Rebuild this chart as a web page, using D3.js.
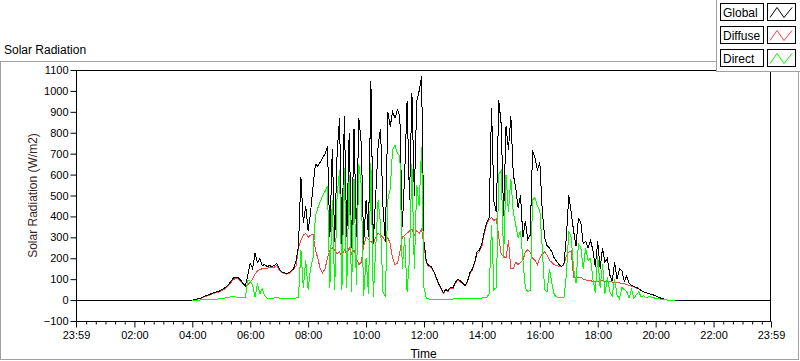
<!DOCTYPE html>
<html>
<head>
<meta charset="utf-8">
<script src="https://cdn.jsdelivr.net/npm/d3@7"></script>
<style>
  html, body { margin: 0; padding: 0; background: #fff; }
  svg { display: block; }
  text { font-family: "Liberation Sans", Arial, sans-serif; }
</style>
</head>
<body>
<svg id="chart" width="800" height="361"></svg>
<script>
// ---------- DATA ----------
// samples every 5 minutes from 04:00 to 20:40 (W/m2)
const sampleStartMinute = 240;
const sampleStepMinutes = 5;

const globalRad = [
  0, 2, 5, 8, 12, 18, 22, 26, 32, 36, 40, 42, 48, 55, 62, 75, 90, 105, 110, 108, 96, 80, 68, 120, 175,
  150, 225, 180, 200, 165, 170, 160, 165, 160, 165, 175, 150, 135, 130, 128, 130,
  140, 150, 190, 260, 590, 370, 450, 330, 420, 540, 650, 640, 660, 680, 700, 735,
  300, 720, 280, 700, 870, 260, 880, 300, 800, 250, 820, 300, 870, 750, 270, 480,
  300, 1045, 270, 500, 740, 820, 450, 280, 900, 830, 900, 870, 910, 880, 350, 600,
  950, 480, 990, 500, 950, 1000, 1070, 280, 180, 165, 160, 140,
  110, 80, 58, 35, 50, 45, 62, 58, 85, 100, 92, 82, 70, 88, 130, 148, 180, 230, 240, 268, 330, 370, 392,
  920, 470, 420, 955, 840, 400, 830, 720, 880, 600, 540, 440, 500, 300, 380, 290, 310, 715, 680, 620, 660,
  430, 300, 260, 250, 230, 200, 185, 170, 160, 175, 300, 500, 420, 330, 260, 390, 370,
  270, 280, 250, 285, 240, 160, 280, 150, 250, 180, 200, 120, 90, 180, 100, 150, 140, 90, 115, 80,
  70, 65, 60, 55, 45, 40, 35, 32, 28, 25, 20, 15, 10, 6, 3, 0, 0, 0, 0
];

const diffuseRad = [
  0, 1, 4, 7, 10, 15, 19, 23, 28, 32, 36, 39, 44, 50, 57, 70, 84, 98, 104, 102, 90, 76, 64, 72, 88,
  100, 125, 140, 145, 150, 152, 152, 155, 155, 158, 165, 145, 132, 126, 124, 126,
  136, 146, 165, 250, 285, 310, 320, 300, 310, 315, 240, 200, 150, 130, 150, 200,
  240, 250, 240, 220, 230, 210, 240, 220, 250, 220, 240, 200, 170, 180, 260, 300,
  290, 280, 270, 300, 320, 310, 300, 280, 300, 270, 200, 170, 175, 230, 300, 310,
  320, 330, 340, 310, 330, 320, 340, 260, 175, 160, 155, 137,
  107, 78, 55, 32, 47, 42, 58, 55, 80, 95, 88, 78, 66, 84, 125, 143, 175, 220, 232, 258, 320, 360, 385,
  395, 380, 390, 300, 220, 210, 200, 285, 150, 150, 180, 170, 180, 190, 230, 240, 230, 200, 190, 170, 200,
  220, 230, 215, 190, 180, 170, 165, 160, 160, 170, 210, 230, 235, 110, 105, 110, 110,
  100, 96, 95, 92, 90, 90, 90, 92, 92, 90, 90, 88, 86, 86, 84, 82, 80, 78, 74, 70,
  66, 62, 58, 54, 45, 40, 36, 32, 28, 25, 20, 15, 10, 6, 3, 0, 0, 0, 0
];

const directRad = [
  0, 0, 0, 0, 3, 3, 3, 3, 3, 3, 3, 6, 6, 6, 12, 14, 15, 15, 15, 14, 14, 14, 14, 95, 90,
  70, 15, 80, 30, 55, 20, 10, 8, 8, 10, 15, 10, 8, 6, 6, 8,
  8, 8, 10, 12, 240, 60, 190, 50, 150, 200, 400, 440, 470, 500, 520, 545,
  60, 480, 50, 500, 620, 50, 630, 60, 600, 40, 580, 70, 650, 550, 20, 200,
  30, 655, 15, 250, 480, 360, 40, 15, 480, 530, 720, 740, 700, 690, 150, 300,
  40, 200, 650, 150, 550, 450, 730, 60, 8, 5, 5, 5,
  5, 5, 5, 5, 5, 5, 5, 5, 6, 6, 6, 6, 6, 6, 6, 8, 8, 8, 8, 10, 10, 12, 30,
  360, 50, 60, 600, 620, 200, 600, 420, 580, 420, 360, 300, 330, 190, 60, 40, 45, 480, 490, 450, 430,
  250, 50, 40, 150, 80, 25, 15, 12, 10, 12, 120, 330, 300, 150, 80, 270, 250,
  150, 250, 190, 200, 100, 35, 210, 60, 170, 30, 110, 40, 20, 100, 25, 5, 60, 50, 40, 10,
  50, 8, 25, 40, 15, 20, 10, 15, 15, 12, 8, 8, 5, 3, 1, 0, 0, 0, 0
];

// axis definitions
const dayStartMinute = -1;   // 23:59 of previous day
const dayEndMinute = 1439;   // 23:59
const yTicks = [-100, 0, 100, 200, 300, 400, 500, 600, 700, 800, 900, 1000, 1100];
const xTickMinutes = [-1, 120, 240, 360, 480, 600, 720, 840, 960, 1080, 1200, 1320, 1439];
const xTickLabels = ["23:59", "02:00", "04:00", "06:00", "08:00", "10:00", "12:00", "14:00", "16:00", "18:00", "20:00", "22:00", "23:59"];
const seriesNames = ["Global", "Diffuse", "Direct"];
const seriesColors = ["#000000", "#ff4040", "#00ff00"];

// ---------- CHART ----------
const svg = d3.select("#chart");
const X0 = 76, X1 = 771, Y0 = 70, Y1 = 321;

const x = d3.scaleLinear().domain([dayStartMinute, dayEndMinute]).range([X0, X1]);
const y = d3.scaleLinear().domain([-100, 1100]).range([Y1, Y0]);

// outer frame
svg.append("rect").attr("x", 0.5).attr("y", 61.5).attr("width", 798).attr("height", 298)
  .attr("fill", "none").attr("stroke", "#a0a0a0");

// title
svg.append("text").attr("x", 4).attr("y", 54).attr("font-size", 12).attr("fill", "#000").text("Solar Radiation");

// plot area
svg.append("rect").attr("x", X0 + 0.5).attr("y", Y0 + 0.5).attr("width", X1 - X0 - 1).attr("height", Y1 - Y0)
  .attr("fill", "#fff").attr("stroke", "#000");

// clip
svg.append("clipPath").attr("id", "clip").append("rect")
  .attr("x", X0 + 1).attr("y", Y0 + 1).attr("width", X1 - X0 - 2).attr("height", Y1 - Y0 - 1);

// y axis
const yAxis = d3.axisLeft(y).tickValues(yTicks).tickFormat(d3.format("d"))
  .tickSize(6).tickSizeOuter(0).tickPadding(2);
const gy = svg.append("g").attr("transform", `translate(${X0 + 0.5},0)`).call(yAxis);
gy.select(".domain").remove();
gy.selectAll("text").attr("font-size", 11).attr("font-family", "Liberation Sans, Arial, sans-serif").attr("fill", "#000");
gy.selectAll("line").attr("stroke", "#000");

// x axis major
const xAxis = d3.axisBottom(x).tickValues(xTickMinutes)
  .tickFormat((d, i) => xTickLabels[i]).tickSize(6).tickSizeOuter(0).tickPadding(4);
const gx = svg.append("g").attr("transform", `translate(0,${Y1 + 0.5})`).call(xAxis);
gx.select(".domain").remove();
gx.selectAll("text").attr("font-size", 11).attr("font-family", "Liberation Sans, Arial, sans-serif").attr("fill", "#000");
gx.selectAll("line").attr("stroke", "#000");

// x axis minor ticks (every 20 min)
const minorTicks = d3.range(20, 1440, 20).filter(m => m % 120 !== 0);
const xMinor = d3.axisBottom(x).tickValues(minorTicks).tickFormat("").tickSize(3).tickSizeOuter(0);
const gxm = svg.append("g").attr("transform", `translate(0,${Y1 + 0.5})`).call(xMinor);
gxm.select(".domain").remove();
gxm.selectAll("line").attr("stroke", "#000");

// axis titles
svg.append("text").attr("x", (X0 + X1) / 2).attr("y", 358).attr("text-anchor", "middle")
  .attr("font-size", 12).attr("fill", "#000").text("Time");
svg.append("text").attr("transform", `translate(37,${(Y0 + Y1) / 2}) rotate(-90)`)
  .attr("text-anchor", "middle").attr("font-size", 12).attr("fill", "#3a1f1f").text("Solar Radiation (W/m2)");

// series
function pts(arr) {
  return arr.map((v, i) => [sampleStartMinute + i * sampleStepMinutes, v]);
}
const globalPts = [[dayStartMinute, 0]].concat(pts(globalRad)).concat([[dayEndMinute, 0]]);
const diffusePts = pts(diffuseRad);
const directPts = pts(directRad);

const line = d3.line().x(d => x(d[0])).y(d => y(d[1]));
const gPlot = svg.append("g").attr("clip-path", "url(#clip)");
[[diffusePts, seriesColors[1]], [globalPts, seriesColors[0]], [directPts, seriesColors[2]]].forEach(([data, c]) => {
  gPlot.append("path").datum(data).attr("d", line).attr("fill", "none")
    .attr("stroke", c).attr("stroke-width", 1).attr("stroke-linejoin", "miter")
    .attr("shape-rendering", "crispEdges");
});

// legend
const lg = svg.append("g");
lg.append("rect").attr("x", 716.5).attr("y", -0.5).attr("width", 84).attr("height", 72)
  .attr("fill", "#fff").attr("stroke", "#a0a0a0");
seriesNames.forEach((name, i) => {
  const top = 3.5 + i * 23;
  lg.append("rect").attr("x", 720.5).attr("y", top).attr("width", 43).attr("height", 17)
    .attr("fill", "#fff").attr("stroke", "#000");
  lg.append("text").attr("x", 723).attr("y", top + 13).attr("font-size", 12).attr("fill", "#000").text(name);
  lg.append("rect").attr("x", 767.5).attr("y", top).attr("width", 28).attr("height", 17)
    .attr("fill", "#fff").attr("stroke", "#000");
  lg.append("polyline")
    .attr("points", [[770, top + 14], [777, top + 4], [784, top + 14], [792, top + 4]].map(p => p.join(",")).join(" "))
    .attr("fill", "none").attr("stroke", seriesColors[i]).attr("stroke-width", 1);
});
</script>
</body>
</html>
